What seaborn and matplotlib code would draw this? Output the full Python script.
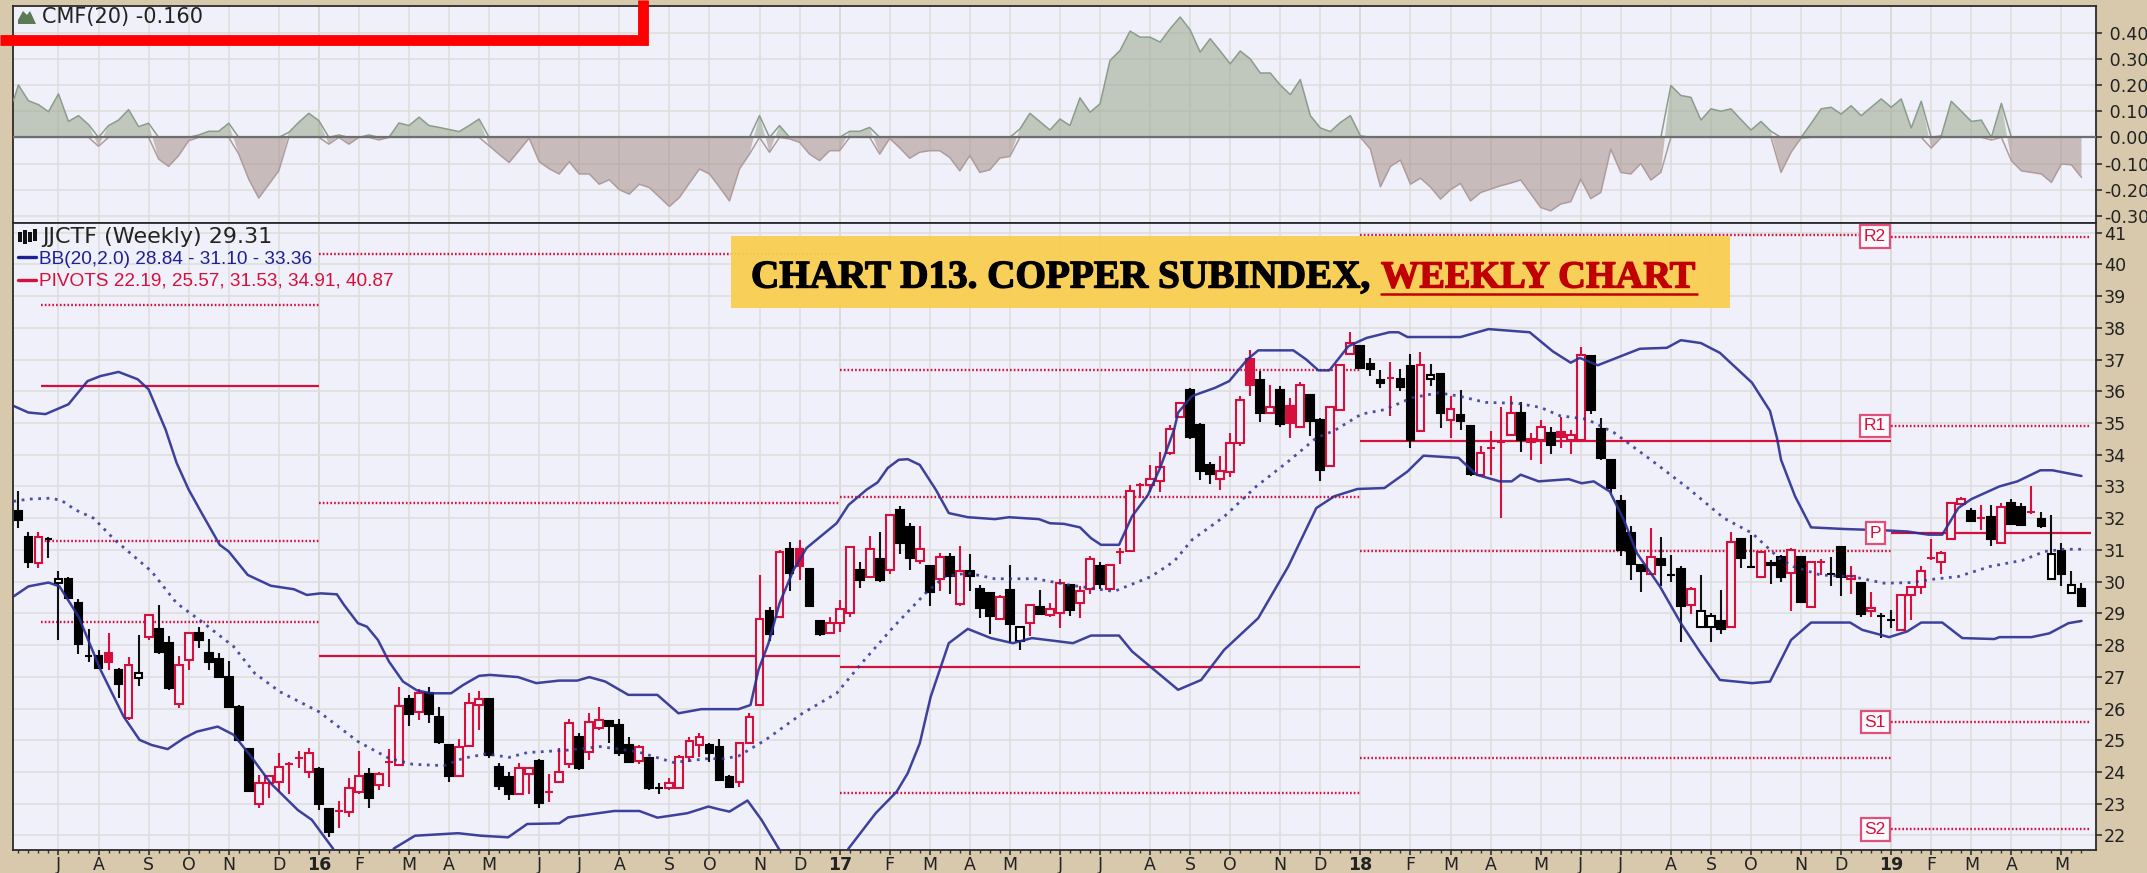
import numpy as np
import pandas as pd
import seaborn as sns
import matplotlib
matplotlib.use("Agg")
import matplotlib.pyplot as plt
import matplotlib.patheffects as pe
from matplotlib.lines import Line2D
from matplotlib.patches import Rectangle, Polygon

W, H = 2147, 873
TAN = "#D8C8AC"; PANEL = "#EFF0F9"; RED = "#D6103C"; NAVY = "#2A2E92"

body_top = [32.24,31.42,31.40,31.34,30.08,30.08,29.34,27.64,27.64,27.74,
 27.20,27.36,27.11,28.95,28.51,28.06,27.36,28.37,28.39,27.76,
 27.56,27.00,26.06,24.73,23.64,23.88,24.15,24.25,24.45,24.59,
 24.10,22.83,22.78,23.51,23.88,23.95,23.95,24.30,26.09,26.30,
 26.48,26.48,25.74,24.85,24.78,26.16,26.29,26.30,24.17,23.85,
 24.14,24.13,24.35,23.36,24.01,25.53,25.11,25.58,25.64,25.61,
 25.48,24.85,24.78,24.43,23.48,23.64,24.48,24.97,25.09,24.85,
 24.78,23.85,24.90,25.72,28.82,29.08,30.92,31.04,31.04,30.41,
 28.77,28.70,29.14,31.09,30.36,31.03,30.72,32.11,32.26,31.72,
 31.03,30.48,30.78,30.78,30.32,30.32,29.77,29.64,29.51,29.73,
 28.57,29.25,29.20,29.14,29.96,29.90,29.69,30.72,30.48,30.52,
 30.92,32.86,33.03,33.23,33.61,34.81,35.63,36.03,34.95,33.69,
 33.48,34.37,35.71,37.03,36.35,35.50,36.03,35.53,36.21,35.89,
 35.10,35.50,36.82,37.52,37.42,36.86,36.35,36.41,36.40,36.79,
 36.84,36.50,36.53,35.44,35.26,34.89,34.05,34.21,34.39,35.31,
 35.31,34.49,34.87,34.68,34.73,34.63,37.15,37.10,34.82,33.82,
 32.55,31.53,30.53,30.77,30.71,30.21,30.40,29.76,29.06,28.93,
 28.76,31.26,31.35,30.45,30.92,30.60,30.77,31.00,30.77,30.63,
 30.63,30.23,31.09,30.19,29.97,29.18,28.92,28.79,29.58,29.82,
 30.35,30.74,30.90,32.47,32.60,32.23,32.00,32.05,32.35,32.47,
 32.35,32.21,31.98,30.88,30.98,29.88,29.77]
body_bot = [31.95,30.61,30.58,31.34,29.97,29.48,28.04,27.64,27.27,27.48,
 26.78,25.69,26.97,28.25,27.77,26.64,26.14,27.53,28.16,27.47,
 27.00,26.06,25.01,23.41,22.99,23.66,23.69,24.25,24.45,24.01,
 22.99,22.12,22.78,22.75,23.38,23.19,23.59,24.30,24.22,25.83,
 25.90,25.83,24.93,23.87,23.88,24.82,26.11,24.55,23.56,23.30,
 23.32,23.95,23.03,23.36,23.69,24.25,24.11,24.64,25.37,25.45,
 24.61,24.32,24.35,23.48,23.48,23.48,23.50,24.46,24.85,24.59,
 23.74,23.53,23.69,24.90,26.12,28.36,28.88,30.27,30.50,29.24,
 28.36,28.38,28.70,29.01,30.06,30.14,30.04,30.38,31.22,30.75,
 30.64,29.67,30.09,30.19,29.30,30.19,29.17,28.93,28.82,28.67,
 28.14,28.69,28.99,28.94,29.01,29.12,29.33,29.78,29.94,29.78,
 30.92,30.95,33.03,33.05,33.18,34.05,35.19,34.56,33.48,33.40,
 33.23,33.44,34.37,36.19,35.32,35.32,34.98,35.00,34.87,35.05,
 33.53,33.65,35.42,37.16,36.74,36.70,36.26,36.41,36.13,34.47,
 34.76,36.40,35.32,35.08,35.05,33.40,33.37,34.21,34.39,34.61,
 34.45,34.39,34.45,34.31,34.55,34.47,34.45,35.42,33.89,32.95,
 31.00,30.56,30.32,30.24,30.51,30.21,29.24,29.27,28.56,28.56,
 28.50,28.56,30.76,30.45,30.14,30.52,30.13,30.27,29.37,29.21,
 30.63,30.23,30.14,30.08,28.98,29.08,28.92,28.79,28.48,29.58,
 29.82,30.74,30.63,31.34,32.45,31.90,32.00,31.34,31.21,31.82,
 31.77,32.21,31.76,30.08,30.24,29.63,29.24]
highs = [32.87,31.56,31.56,31.42,30.35,30.16,29.45,28.51,27.83,28.39,
 27.27,27.62,28.32,28.95,29.27,28.27,27.64,28.37,28.58,28.19,
 27.76,27.51,26.11,24.73,23.90,23.88,24.61,24.32,24.67,24.74,
 24.17,22.83,23.09,23.80,24.67,24.11,24.00,24.71,26.69,26.43,
 26.60,26.69,26.06,24.85,25.03,26.48,26.56,26.30,24.27,24.01,
 24.27,24.13,24.40,23.95,24.77,25.66,25.24,25.87,26.06,25.61,
 25.66,25.09,24.85,24.43,23.66,23.80,24.53,25.11,25.24,24.90,
 25.03,23.90,24.95,25.85,30.22,29.20,30.99,31.24,31.30,30.41,
 28.77,28.88,29.41,31.09,30.61,31.43,31.55,32.11,32.37,31.85,
 31.74,30.48,30.90,30.90,31.11,30.87,29.90,29.64,29.59,30.53,
 28.57,29.25,29.73,29.33,30.08,29.90,29.85,30.80,30.61,30.52,
 31.06,33.05,33.11,33.69,34.07,34.95,35.63,36.10,35.00,33.76,
 33.95,34.70,35.84,37.31,36.63,36.21,36.16,35.79,36.28,35.89,
 35.16,35.50,36.82,37.86,37.47,37.05,36.66,36.91,36.71,37.16,
 37.23,36.86,36.53,35.84,36.03,34.89,34.26,34.76,35.50,35.84,
 35.65,34.68,35.08,34.87,35.18,34.79,37.41,37.10,35.15,33.82,
 32.74,31.74,30.53,31.69,31.42,30.84,30.48,29.82,30.21,29.00,
 29.72,31.55,31.35,31.48,30.92,30.69,30.84,31.05,30.77,30.63,
 30.71,30.79,31.09,30.48,29.97,29.66,29.00,29.09,29.58,29.82,
 30.48,31.35,30.98,32.47,32.68,32.32,32.42,32.42,32.47,32.60,
 32.47,33.00,32.21,32.11,31.21,30.35,29.95]
lows = [31.69,30.42,30.42,30.74,28.16,29.48,27.72,27.48,27.27,27.22,
 26.32,25.64,26.71,28.16,27.72,26.59,26.01,27.22,27.90,27.22,
 26.95,26.01,24.96,23.36,22.85,23.17,23.38,23.30,24.12,23.80,
 22.80,21.96,22.22,22.57,23.32,22.85,23.43,23.53,24.22,25.45,
 25.64,25.55,24.88,23.69,23.88,24.78,25.32,24.45,23.43,23.11,
 23.32,23.30,22.85,23.06,23.69,24.11,24.06,24.38,25.32,24.92,
 24.50,24.32,24.25,23.43,23.30,23.43,23.50,24.32,24.48,24.32,
 23.74,23.48,23.53,24.90,26.12,28.12,28.88,29.69,30.06,29.24,
 28.30,28.38,28.40,28.88,29.80,30.14,29.99,30.25,30.88,30.38,
 30.57,29.24,29.69,29.62,29.24,29.69,28.85,28.36,28.82,28.06,
 27.85,28.27,28.99,28.88,28.54,28.93,28.85,29.62,29.77,29.78,
 30.57,30.95,32.63,32.84,32.84,34.00,35.19,34.50,33.21,33.09,
 32.90,33.30,34.29,35.86,35.02,35.32,34.87,34.53,34.87,34.60,
 33.16,33.61,35.37,37.16,36.74,36.49,36.10,35.23,36.00,34.21,
 34.76,36.18,34.84,34.53,34.79,33.33,33.37,33.37,32.00,34.61,
 34.10,33.84,33.71,34.03,34.21,34.03,34.45,35.29,33.84,32.79,
 30.81,30.06,29.67,30.24,29.87,30.00,28.09,28.98,28.56,28.09,
 28.35,28.56,30.42,30.45,30.14,29.93,30.00,29.06,29.37,29.16,
 30.21,29.87,29.55,29.61,28.88,28.88,28.22,28.53,28.48,28.79,
 29.61,30.69,30.24,31.34,32.45,31.90,31.63,31.13,31.21,31.79,
 31.77,32.14,31.69,30.08,29.87,29.63,29.24]
kinds = ("BBRBHBBBBF" "BRHRBBRRBB" "BBBBRRRFFR" "BBFRRBRFRB" "RBBBRRRBBB"
         "RRBFRRBRRB" "BBRBBRRRRB" "BBRRRBRBFB" "BRRRBRBRBB" "RBRBRBBBRB"
         "HRBRRBRRBR" "FRFRRRRBBB" "RRRFBRBFRB" "BRRRBBBFBB" "RHBRBBRFFR"
         "BFRBFRRBBB" "BBBRBBBRHH" "BRBBRBBRBR" "FBBRBRBBRR" "RFRRRBFBRB"
         "BFBHBHB")

upper_w = [-0.5,1,2.7,5,6.9,8.2,10,11.9,13,14.7,15.8,17,18.3,20.1,21,22.9,25.2,27.5,28.8,30.2,31.8,32.5,33.9,34.8,35.9,37,38.4,39.8,41.2,43.2,44.4,46,47.1,49.9,51.7,54,55.8,57,58.6,60.9,63.8,65.9,68.2,
 70,71.9,73.1,73.9,74.9,76,77.4,78.7,81.7,82.9,84.7,85.8,86.8,87.9,88.8,90,91.6,92.9,94.8,97.5,98.9,101.9,103,104.4,106,107.1,108.1,109.9,111.2,112.8,114,115.4,115.8,117.2,119.5,120.9,122.7,123.8,127.3,128.6,129.8,130.9,132.8,134.6,136.9,137.8,138.7,141.9,
 144,146.8,150.9,153.2,155,155.9,157.7,161.9,164.6,166,168,169.9,173.1,174.9,175.6,176,177.4,179,182.2,186.8,188.6,190.7,192.1,193.7,195,197.8,199.6,201.9,203.1,206]
upper_p = [35.54,35.33,35.28,35.59,36.32,36.48,36.61,36.38,36.06,34.79,33.74,32.9,32.16,31.16,30.95,30.21,29.87,29.76,29.58,29.63,29.6,29.27,28.69,28.58,28.16,27.48,26.85,26.57,26.48,26.48,26.74,27.03,27.06,26.99,26.8,26.88,26.88,26.99,26.85,26.43,26.43,25.85,25.98,
 25.98,25.98,26.11,27.22,28.06,29.32,30.37,31.06,31.84,32.42,32.9,33.13,33.58,33.84,33.86,33.68,32.9,32.16,32.03,31.97,32.03,31.97,31.84,31.82,31.71,31.37,31.16,31.16,32.06,32.74,33.58,34.79,35.33,35.85,36.11,36.32,37.0,37.29,37.29,37.0,36.66,36.66,37.42,37.68,37.86,37.86,37.71,37.71,
 37.71,37.96,37.86,37.26,36.9,37.05,36.82,37.34,37.37,37.61,37.52,37.21,36.27,35.38,34.52,33.84,32.69,31.71,31.66,31.61,31.58,31.48,31.48,32.32,32.6,33.0,33.16,33.51,33.51,33.33]

mid_w = [-0.5,1,3.2,4.3,5.7,7.5,9.6,13.3,15.8,18.3,21.5,23.6,26.1,30,33.9,37,39.4,42.5,44.4,46.7,49,50.8,54.9,58.1,61.8,65.4,69.1,
 70.1,71.9,74.6,78.3,81.7,84.2,87.4,90.6,92.5,94.8,97.5,101.6,104.8,109.4,113.1,115.4,117.2,120.4,123.6,126.8,129.6,131.4,134.1,136.4,139.2,141.8,
 143.8,146.5,149.7,152,153.9,156.6,159.3,163,166.7,170.3,173.1,175.8,177.2,179.9,183.1,186.3,189.1,191.3,193.7,196.9,200.1,202.3,204.3,206]
mid_p = [32.53,32.6,32.63,32.56,32.26,32.0,31.32,30.32,29.32,28.74,27.95,27.11,26.53,25.9,24.96,24.43,24.24,24.2,24.43,24.57,24.46,24.61,24.69,24.8,24.64,24.3,24.43,
 24.4,24.5,25.01,25.85,26.48,27.43,28.58,29.64,30.16,30.27,30.09,30.09,29.9,29.69,30.16,30.64,31.32,32.05,33.0,33.79,34.53,34.76,35.28,35.42,35.8,35.95,
 35.85,35.65,35.62,35.49,35.23,35.12,34.7,33.84,32.95,32.0,31.53,30.74,30.48,30.21,30.16,29.95,29.97,30.08,30.16,30.48,30.67,30.95,31.02,31.02]

lower_w = [-0.5,1,3,4.1,6,8.2,10.5,12.1,13.3,14.9,16.5,17.8,19.9,21.5,23.1,25.2,27.9,29.3,31.4,33,36,37.5,39.6,43.9,46.2,48.9,50.8,54,54.9,59.5,62,63.8,66.8,68.9,
 70,71,72.8,74.2,76,78,81,82.9,85.6,87.7,88.8,90,91.1,92.9,94.8,97.1,99.3,101.2,105.3,107.1,109.9,111.2,115.8,118.1,120.4,123.8,126.8,129.6,131.4,133.7,136.4,138.7,140.3,
 143.8,145.6,147.9,149.1,150,151.8,154.8,156.1,157.3,158.9,160.3,161.6,163.9,166,168,169.9,173.1,174.9,177,179,182.9,184.1,186.8,188.6,190,192.1,194.1,197.3,197.8,201,202.8,204.7,206]
lower_p = [29.53,29.85,29.97,29.85,28.9,27.22,25.75,25.01,24.85,24.72,25.06,25.27,25.43,25.17,24.54,23.64,22.8,22.49,21.59,20.6,20.6,21.59,21.99,22.07,21.99,21.94,22.36,22.38,22.57,22.77,22.77,22.56,22.7,22.91,
 22.82,22.75,23.1,22.49,21.54,20.6,20.6,21.59,22.7,23.38,23.96,24.9,26.38,28.06,28.51,28.22,28.06,28.22,28.06,28.3,28.3,27.8,26.59,26.9,27.85,28.85,30.48,32.32,32.69,32.92,32.95,33.47,33.97,
 33.9,33.37,33.16,33.16,33.37,33.16,33.23,33.1,33.16,32.84,31.95,30.9,29.85,28.69,27.74,26.9,26.8,26.85,28.16,28.71,28.71,28.48,28.25,28.43,28.71,28.71,28.22,28.19,28.25,28.25,28.37,28.69,28.76]

cmf = [.20,.14,.125,.098,.166,.061,.083,.049,-.034,.045,.066,.106,.041,.054,-.083,-.111,-.07,-.013,.009,.023,
 .023,.054,-.064,-.16,-.232,-.18,-.128,.019,.058,.092,.064,-.026,.009,-.026,0,.009,-.01,0,.055,.045,
 .077,.045,.038,.03,.022,.045,.07,-.032,-.065,-.096,-.05,-.003,-.093,-.12,-.14,-.093,-.14,-.14,-.179,-.162,
 -.2,-.217,-.179,-.192,-.228,-.264,-.23,-.175,-.121,-.14,-.19,-.243,-.121,-.064,.083,-.057,.045,-.006,-.019,-.064,
 -.089,-.051,-.051,.023,.023,.038,-.064,-.004,-.04,-.08,-.057,-.051,-.051,-.077,-.128,-.07,-.134,-.124,-.079,-.073,
 .032,.092,.06,.028,.07,.045,.151,.096,.128,.294,.332,.406,.383,.383,.364,.415,.46,.411,.326,.377,
 .33,.281,.33,.3,.246,.246,.2,.163,.221,.083,.036,.022,.057,.083,.006,-.045,-.189,-.111,-.087,-.179,
 -.156,-.19,-.236,-.2,-.176,-.243,-.211,-.198,-.185,-.175,-.163,-.215,-.268,-.281,-.255,-.246,-.16,-.234,-.211,-.045,
 -.134,-.14,-.1,-.163,-.134,.198,.16,.153,.066,.109,.1,.109,.068,.028,.061,.023,-.134,-.057,-.003,.053,
 .109,.115,.089,.121,.083,.115,.147,.115,.147,.036,.138,-.041,.006,.138,.1,.061,.066,-.01,.13,-.089,
 -.128,-.134,-.14,-.172,-.102,-.105,-.153]

month_weeks = [4,8,13,17,21,26,30,34,39,43,47,52,56,60,65,69,74,78,82,87,91,95,99,104,108,113,117,121,126,130,134,139,143,147,152,156,160,165,169,173,178,182,187,191,195,199,204]
month_labels = ["J","A","S","O","N","D","16","F","M","A","M","J","J","A","S","O","N","D","17","F","M","A","M","J","J","A","S","O","N","D","18","F","M","A","M","J","J","A","S","O","N","D","19","F","M","A","M"]
price_ticks = list(range(22, 42))
cmf_ticks = [0.4,0.3,0.2,0.1,0.0,-0.1,-0.2,-0.3]

pivot_start = [2.3, 30, 82, 134, 187]
pivot_end = [30, 82, 134, 187, 207]
pivot_solid = [36.17, 27.67, 27.30, 34.42, 31.53]
pivot_dotted = [[38.72,31.29,28.74],[40.34,32.48],[36.66,32.66,23.34],[40.92,30.95,24.45],[40.87,34.91,25.57,22.19]]
pivot_tags = ["R2","R1","P","S1","S2"]
pivot_tag_levels = [40.87,34.91,31.53,25.57,22.19]

sns.set_theme(style="ticks")
plt.rcParams["font.family"] = ["DejaVu Sans"]
fig = plt.figure(figsize=(W/100, H/100), dpi=100, facecolor=TAN)

def box(l, t, r, b):
    return [l/W, 1-b/H, (r-l)/W, (b-t)/H]
def fx(x): return x/W
def fy(y): return 1-y/H

axc = fig.add_axes(box(13, 5.5, 2096, 222.5), facecolor=PANEL)
axp = fig.add_axes(box(13, 222.5, 2096, 850), facecolor=PANEL)
XL = (-0.54, 207.45)
GRID = "#DEDEDC"; YEARG = "#C6C5BE"
year_weeks = [w for w, l in zip(month_weeks, month_labels) if l.isdigit()]

for ax in (axc, axp):
    ax.set_xlim(*XL)
    ax.set_xticks(month_weeks)
    ax.set_xticks(np.arange(0, 207), minor=True)
    ax.grid(True, which="major", color=GRID, lw=1.2, zorder=0)
    ax.set_axisbelow(True)
    ax.yaxis.tick_right()
    for w in year_weeks:
        ax.axvline(w, color=YEARG, lw=1.3, zorder=0.5)
    for s in ax.spines.values():
        s.set_color("#2b2b2b"); s.set_linewidth(1.3)
    ax.tick_params(axis="y", which="major", length=4, width=1.2, color="#333333", labelsize=12.6, pad=1.5, labelcolor="#222222")

# CMF panel
axc.set_ylim(-0.3255, 0.504)
cx = np.array([-0.5] + list(range(207)), dtype=float)
cy = np.array([0.14] + cmf)
axc.fill_between(cx, cy, 0, where=cy >= 0, interpolate=True, facecolor="#93A285", alpha=0.5, lw=0, zorder=2)
axc.fill_between(cx, cy, 0, where=cy <= 0, interpolate=True, facecolor="#A18881", alpha=0.5, lw=0, zorder=2)
sns.lineplot(x=cx, y=np.maximum(cy, 0), ax=axc, color="#8A9C8C", lw=1.1, zorder=3, estimator=None)
sns.lineplot(x=cx, y=np.minimum(cy, 0), ax=axc, color="#AE9C9C", lw=1.1, zorder=3, estimator=None)
axc.axhline(0, color="#6E6E70", lw=1.6, zorder=4)
axc.set_yticks(cmf_ticks)
axc.set_yticklabels([(" " if v >= 0 else "-") + f"{abs(v):.2f}" for v in cmf_ticks])
axc.tick_params(axis="x", which="both", length=0, labelbottom=False)
axc.set_xlabel(""); axc.set_ylabel("")

# Price panel
axp.set_ylim(21.54, 41.32)
for s, e, lev, dots in zip(pivot_start, pivot_end, pivot_solid, pivot_dotted):
    axp.hlines(lev, s, e, color=RED, lw=1.6, zorder=1.5)
    axp.hlines(dots, s, e, color=RED, lw=1.7, linestyles=(0, (0.7, 0.9)), zorder=1.5)

x = np.arange(len(kinds))
top = np.array(body_top); bot = np.array(body_bot)
hi = np.array(highs); lo = np.array(lows)
wick_col = ["#111111" if k in "BH" else RED for k in kinds]
axp.vlines(x, lo, hi, colors=wick_col, lw=1.5, zorder=2)
face = {"B": "#000000", "F": RED, "R": PANEL, "H": "#FFFFFF"}
edge = {"B": "#000000", "F": RED, "R": RED, "H": "#000000"}
axp.bar(x, top-bot, bottom=bot, width=0.78,
        color=[face[k] for k in kinds], edgecolor=[edge[k] for k in kinds], linewidth=1.5, zorder=3)

sns.lineplot(x=upper_w, y=upper_p, ax=axp, color=NAVY, lw=1.8, alpha=0.9, zorder=4, estimator=None, sort=False)
sns.lineplot(x=lower_w, y=lower_p, ax=axp, color=NAVY, lw=1.8, alpha=0.9, zorder=4, estimator=None, sort=False)
sns.lineplot(x=mid_w, y=mid_p, ax=axp, color="#2F3396", lw=2.0, alpha=0.85, zorder=4, estimator=None, sort=False, linestyle=(0, (1, 2.0)))

axp.set_yticks(price_ticks)
axp.set_yticklabels([str(t) for t in price_ticks])
axp.set_xticklabels(month_labels)
axp.tick_params(axis="x", which="major", length=3.5, width=1.2, color="#333333", labelsize=12.5, pad=0.5, labelcolor="#222222")
axp.tick_params(axis="x", which="minor", length=2.5, width=1, color="#333333", bottom=True)
for lab, txt in zip(axp.get_xticklabels(), month_labels):
    if txt.isdigit():
        lab.set_fontweight("bold")
axp.set_xlabel(""); axp.set_ylabel("")

for tag, lev in zip(pivot_tags, pivot_tag_levels):
    axp.text(185.4, lev, tag, ha="center", va="center", color=RED, fontsize=12.5,
             family="Liberation Sans", zorder=6,
             bbox=dict(boxstyle="square,pad=0.22", fc="#FBFBFD", ec="#E0507A", lw=1.6))

# Panel captions and legend keys
fig.text(fx(42), fy(17), "CMF(20) -0.160", fontsize=15, va="center", ha="left", color="#222222", family="DejaVu Sans", zorder=8)
fig.text(fx(42), fy(237), "JJCTF (Weekly) 29.31", fontsize=16, va="center", ha="left", color="#222222", family="DejaVu Sans", zorder=8)
fig.text(fx(39), fy(259), "BB(20,2.0) 28.84 - 31.10 - 33.36", fontsize=13.7, va="center", ha="left", color="#1E1E96", family="Liberation Sans", zorder=8)
fig.text(fx(39), fy(281), "PIVOTS 22.19, 25.57, 31.53, 34.91, 40.87", fontsize=13.7, va="center", ha="left", color=RED, family="Liberation Sans", zorder=8)
fig.add_artist(Polygon([(fx(18), fy(24)), (fx(18), fy(20)), (fx(23), fy(11)), (fx(27), fy(15)), (fx(30), fy(11)), (fx(36), fy(24))],
                       closed=True, transform=fig.transFigure, fc="#5C7A55", ec="none", zorder=8))
for cxp, t, b in [(20, 232, 242), (25, 230, 244), (30, 232, 242), (35, 229, 241)]:
    fig.add_artist(Rectangle((fx(cxp-2), fy(b)), 4/W, (b-t)/H, transform=fig.transFigure, fc="#111111", ec="none", zorder=8))
fig.add_artist(Line2D([fx(18), fx(36)], [fy(257), fy(257)], transform=fig.transFigure, color="#1E1E96", lw=2.4, zorder=8))
fig.add_artist(Line2D([fx(18), fx(36)], [fy(280), fy(280)], transform=fig.transFigure, color=RED, lw=2.4, zorder=8))

# Title banner
fig.add_artist(Rectangle((fx(731), fy(308)), (1730-731)/W, (308-236)/H, transform=fig.transFigure,
                         fc="#F9CE4F", ec="none", alpha=0.95, zorder=9))
fig.text(fx(751), fy(287.5), "CHART D13. COPPER SUBINDEX,", fontsize=28.2, fontweight="bold", family="Liberation Serif",
         color="#000000", va="baseline", ha="left", zorder=10,
         path_effects=[pe.withStroke(linewidth=1.0, foreground="#000000")])
fig.text(fx(1381), fy(287.5), "WEEKLY CHART", fontsize=27.6, fontweight="bold", family="Liberation Serif",
         color="#C00000", va="baseline", ha="left", zorder=10,
         path_effects=[pe.withStroke(linewidth=1.0, foreground="#C00000")])
fig.add_artist(Line2D([fx(1381), fx(1697)], [fy(293.5), fy(293.5)], transform=fig.transFigure, color="#C00000", lw=1.8, zorder=10))

# Red call-out frame at top left
fig.add_artist(Line2D([0, fx(643), fx(643)], [fy(40), fy(40), 1.0], transform=fig.transFigure,
                      color="#FF0000", lw=7.8, solid_joinstyle="miter", solid_capstyle="butt", zorder=11))

fig.savefig("out.png", dpi=100, facecolor=TAN)
